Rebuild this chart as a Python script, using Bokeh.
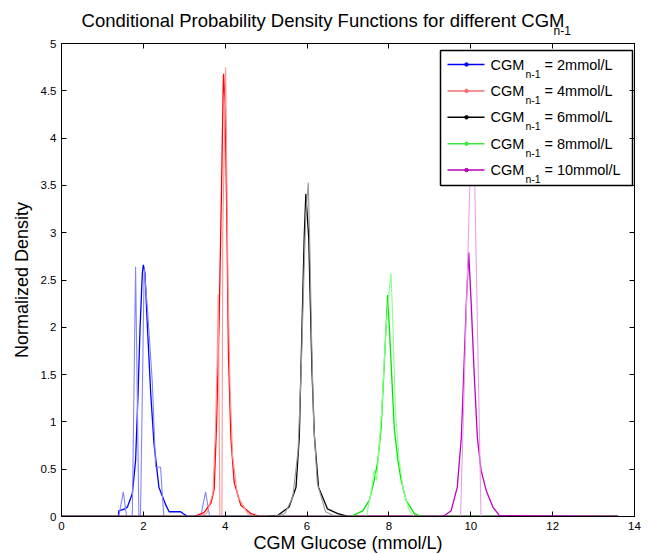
from bokeh.plotting import figure
from bokeh.models import Range1d, LinearAxis, FixedTicker, CustomJSTickFormatter, Title
from bokeh.embed import file_html
from bokeh.resources import INLINE
from bokeh.core.properties import value

# ---------------- data ----------------
x_ticks = [0, 2, 4, 6, 8, 10, 12, 14]
x_tick_labels = ["0", "2", "4", "6", "8", "10", "12", "14"]
y_ticks = [0, 0.5, 1, 1.5, 2, 2.5, 3, 3.5, 4, 4.5, 5]
y_tick_labels = ["0", "0.5", "1", "1.5", "2", "2.5", "3", "3.5", "4", "4.5", "5"]

cgm_prev = ["2", "4", "6", "8", "10"]

# smooth (kernel) densities
kde_x_2 = [0, 1.39, 1.40, 1.55, 1.61, 1.73, 1.81, 1.87, 1.92, 1.975, 2.0, 2.04, 2.10, 2.18, 2.26, 2.38, 2.55, 2.63, 2.91, 3.08, 13.6]
kde_y_2 = [0, 0, 0.06, 0.08, 0.10, 0.24, 0.59, 1.30, 2.00, 2.57, 2.66, 2.57, 2.00, 1.30, 0.77, 0.31, 0.12, 0.05, 0.05, 0.0, 0]
kde_x_4 = [0, 3.23, 3.48, 3.65, 3.73, 3.79, 3.85, 3.91, 3.95, 3.96, 4.00, 4.04, 4.08, 4.14, 4.22, 4.38, 4.63, 4.85, 13.6]
kde_y_4 = [0, 0, 0.04, 0.14, 0.29, 1.00, 2.05, 3.46, 4.52, 4.68, 4.34, 3.11, 1.70, 0.82, 0.36, 0.12, 0.03, 0, 0]
kde_x_6 = [0, 5.0, 5.28, 5.56, 5.73, 5.81, 5.85, 5.89, 5.93, 5.97, 6.04, 6.08, 6.12, 6.18, 6.28, 6.50, 6.75, 7.0, 13.6]
kde_y_6 = [0, 0, 0.01, 0.10, 0.31, 0.84, 1.54, 2.25, 2.95, 3.41, 2.95, 2.25, 1.54, 0.84, 0.31, 0.08, 0.03, 0, 0]
kde_x_8 = [0, 7.07, 7.36, 7.52, 7.64, 7.73, 7.81, 7.89, 7.97, 8.05, 8.13, 8.22, 8.30, 8.42, 8.62, 8.8, 13.6]
kde_y_8 = [0, 0, 0.06, 0.17, 0.38, 0.59, 0.94, 1.65, 2.34, 1.65, 0.94, 0.59, 0.38, 0.17, 0.03, 0, 0]
kde_x_10 = [0, 9.2, 9.36, 9.52, 9.67, 9.77, 9.83, 9.89, 9.95, 10.01, 10.08, 10.16, 10.25, 10.38, 10.54, 10.7, 13.6]
kde_y_10 = [0, 0, 0.01, 0.06, 0.31, 0.84, 1.54, 2.25, 2.79, 2.25, 1.54, 0.84, 0.49, 0.27, 0.10, 0.01, 0]

# empirical (histogram-like) densities
emp_x_2 = [0, 1.40, 1.51, 1.59, 1.73, 1.81, 1.89, 1.93, 2.02, 2.10, 2.22, 2.30, 2.42, 2.50, 3.40, 3.52, 3.62, 13.6]
emp_y_2 = [0, 0, 0.26, 0, 0, 2.64, 0, 0, 2.62, 2.20, 1.41, 0.52, 0.52, 0, 0, 0.26, 0, 0]
emp_x_4 = [0, 3.30, 3.55, 3.70, 3.76, 3.80, 3.83, 3.87, 3.92, 3.94, 4.01, 4.07, 4.12, 4.18, 4.30, 4.55, 4.80, 13.6]
emp_y_4 = [0, 0, 0.03, 0.25, 0.90, 1.60, 2.35, 0, 0, 3.00, 4.75, 2.41, 1.35, 0.64, 0.22, 0.03, 0, 0]
emp_x_6 = [0, 5.2, 5.45, 5.65, 5.78, 5.86, 5.92, 5.97, 6.03, 6.07, 6.11, 6.16, 6.25, 6.45, 6.7, 13.6]
emp_y_6 = [0, 0, 0.03, 0.20, 0.70, 1.60, 2.50, 3.20, 3.53, 2.80, 1.90, 1.00, 0.35, 0.05, 0, 0]
emp_x_8 = [0, 7.45, 7.58, 7.64, 7.70, 7.82, 7.93, 7.99, 8.05, 8.10, 8.16, 8.25, 8.35, 8.50, 8.62, 13.6]
emp_y_8 = [0, 0, 0.30, 0.49, 0.38, 1.10, 2.00, 2.30, 2.57, 2.00, 1.10, 0.60, 0.28, 0.06, 0, 0]
emp_x_10 = [0, 9.75, 10.05, 10.25, 13.6]
emp_y_10 = [0, 0, 4.60, 0, 0]

kde_x = [kde_x_2, kde_x_4, kde_x_6, kde_x_8, kde_x_10]
kde_y = [kde_y_2, kde_y_4, kde_y_6, kde_y_8, kde_y_10]
emp_x = [emp_x_2, emp_x_4, emp_x_6, emp_x_8, emp_x_10]
emp_y = [emp_y_2, emp_y_4, emp_y_6, emp_y_8, emp_y_10]

dark_colors = ["#0000ff", "#ff0000", "#000000", "#00e600", "#c000c0"]
light_colors = ["#8484ff", "#ff9494", "#9a9a9a", "#8cff8c", "#e8a0e8"]
legend_colors = ["#0000ff", "#f07070", "#000000", "#3fe83f", "#b400b4"]

title_text = "Conditional Probability Density Functions for different CGM"
subscript_text = "n-1"
x_label = "CGM Glucose (mmol/L)"
y_label = "Normalized Density"

# ---------------- layout (pixel positions in the picture) ----------------
W, H = 648, 554
FL, FR, FT, FB = 61, 634, 43, 516
XMIN, XMAX, YMIN, YMAX = 0, 14, 0, 5


def dx(px):
    return XMIN + (px - FL) * (XMAX - XMIN) / (FR - FL)


def dy(py):
    return YMIN + (FB - py) * (YMAX - YMIN) / (FB - FT)


FONT = "Liberation Sans"

p = figure(
    frame_width=FR - FL, frame_height=FB - FT,
    x_range=Range1d(XMIN, XMAX), y_range=Range1d(YMIN, YMAX),
    output_backend="svg", toolbar_location=None,
    min_border_left=FL, min_border_right=W - FR, min_border_top=FT, min_border_bottom=H - FB,
    background_fill_color="white", border_fill_color="white",
    outline_line_color="black", outline_line_width=1,
)
p.title.text = ""
p.grid.visible = False


def style_axis(ax, ticks, labels):
    ax.ticker = FixedTicker(ticks=ticks)
    if labels is not None:
        ax.major_label_overrides = dict(zip(ticks, labels))
        ax.major_label_text_font = FONT
        ax.major_label_text_font_size = "11.5px"
        ax.major_label_text_color = "black"
        ax.major_label_standoff = 5
        ax.axis_label_text_font = FONT
        ax.axis_label_text_font_size = "18px"
        ax.axis_label_text_font_style = "normal"
        ax.axis_label_text_color = "black"
    else:
        ax.formatter = CustomJSTickFormatter(code="return ''")
        ax.major_label_standoff = 0
        ax.major_label_text_font_size = "1px"
    ax.major_tick_in = 5
    ax.major_tick_out = 0
    ax.major_tick_line_color = "black"
    ax.minor_tick_line_color = None
    ax.axis_line_color = "black"


style_axis(p.xaxis[0], x_ticks, x_tick_labels)
style_axis(p.yaxis[0], y_ticks, y_tick_labels)
p.xaxis[0].axis_label = x_label
p.xaxis[0].axis_label_standoff = 0
p.yaxis[0].axis_label = y_label
p.yaxis[0].axis_label_standoff = 6
top_axis = LinearAxis()
style_axis(top_axis, x_ticks, None)
p.add_layout(top_axis, "above")
right_axis = LinearAxis()
style_axis(right_axis, y_ticks, None)
p.add_layout(right_axis, "right")

# title: subscript panel next to the frame, main title above it
p.add_layout(Title(text=subscript_text, align="left", offset=553 - FL, standoff=12,
                   text_font=FONT, text_font_size="12px", text_font_style="normal",
                   text_color="black", vertical_align="bottom"), "above")
p.add_layout(Title(text=title_text, align="right", offset=FR - 564, standoff=-30,
                   text_font=FONT, text_font_size="18.5px", text_font_style="normal",
                   text_color="black", vertical_align="bottom"), "above")

# curves
for i in range(len(cgm_prev)):
    p.line(kde_x[i], kde_y[i], line_color=dark_colors[i], line_width=1.3)
    p.line(emp_x[i], emp_y[i], line_color=light_colors[i], line_width=1.1)

# legend (drawn on top of the curves)
LEG_L, LEG_R, LEG_T, LEG_B = 440, 632, 50, 185
p.quad(left=[dx(LEG_L)], right=[dx(LEG_R)], top=[dy(LEG_T)], bottom=[dy(LEG_B)],
       fill_color="white", line_color="black", line_width=1.5)
row_y = [64 + 26.4 * k for k in range(len(cgm_prev))]
for k, lvl in enumerate(cgm_prev):
    yy = dy(row_y[k])
    p.line([dx(447), dx(484)], [yy, yy], line_color=legend_colors[k], line_width=1.5)
    p.scatter([dx(466)], [yy], size=3.5, color=legend_colors[k])
    p.text([dx(490)], [yy], text=["CGM"], text_font=value(FONT),
           text_font_size=value("14.5px"), text_baseline="middle", text_align="left",
           text_color="black")
    p.text([dx(525)], [dy(row_y[k] + 9)], text=[subscript_text], text_font=value(FONT),
           text_font_size=value("10.5px"), text_baseline="middle", text_align="left",
           text_color="black")
    p.text([dx(544)], [yy], text=["= " + lvl + "mmol/L"], text_font=value(FONT),
           text_font_size=value("14.5px"), text_baseline="middle", text_align="left",
           text_color="black")

open("out.html", "w").write(file_html(p, INLINE))
